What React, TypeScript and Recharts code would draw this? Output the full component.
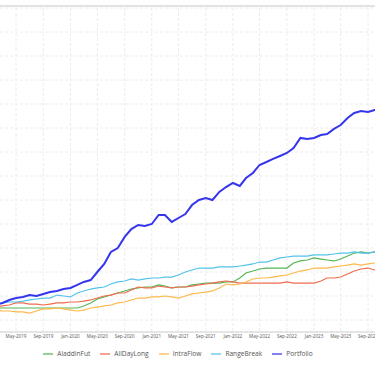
import { LineChart, Line, XAxis, YAxis, CartesianGrid, Legend } from 'recharts'

// monthly points, Feb-2019 .. Nov-2023 (cumulative return, %)
const START_YEAR = 2019
const START_MONTH = 1 // February
const MONTH_COUNT = 58

const ALADDIN_FUT = [
  0, 0, 0, 0, 0, 0, 0, 0, 0, 0,
  0, 0, 0, 1.7, 4.2, 7.5, 9.2, 10.8, 12.5, 14.2,
  15.8, 16.7, 17.5, 17.5, 19.2, 18.3, 16.7, 17.5, 17.5, 19.2,
  20, 20.8, 20.8, 20.8, 21.7, 21.7, 25, 29.2, 30.8, 32.5,
  33.3, 33.3, 33.3, 33.3, 37.5, 39.2, 40, 41.7, 40.8, 40,
  39.2, 40.8, 43.3, 45.8, 46.7, 45.8, 46.7, 46.7,
]

const ALL_DAY_LONG = [
  0.8, 1.7, 2.5, 4.2, 4.2, 3.3, 3.3, 2.5, 3.3, 4.2,
  4.2, 5, 5, 5.8, 6.7, 8.3, 10, 10.8, 12.5, 12.5,
  15, 17.5, 16.7, 16.7, 18.3, 17.5, 16.7, 17.5, 17.5, 18.3,
  19.2, 20, 20.8, 21.7, 22.5, 21.7, 20.8, 20.8, 20.8, 20.8,
  20.8, 20.8, 20.8, 21.7, 20.8, 20.8, 20.8, 20.8, 22.5, 25,
  25, 25.8, 28.3, 30.8, 32.5, 33.3, 31.7, 31.7,
]

const INTRA_FLOW = [
  -1.7, -2.5, -2.5, -3.3, -3.3, -4.2, -2.5, -0.8, -0.8, 0,
  -0.8, -1.7, -2.5, -1.7, 0, 0.8, 1.7, 2.5, 4.2, 5,
  6.7, 8.3, 8.3, 9.2, 9.2, 10, 9.2, 8.3, 10, 11.7,
  12.5, 13.3, 14.2, 16.7, 20, 19.2, 20, 21.7, 24.2, 25,
  25, 25.8, 26.7, 27.5, 29.2, 30.8, 31.7, 33.3, 33.3, 33.3,
  34.2, 35, 35.8, 36.7, 35.8, 36.7, 37.5, 37.5,
]

const RANGE_BREAK = [
  3.3, 4.2, 5, 5, 5.8, 6.7, 7.5, 8.3, 8.3, 10.8,
  10, 9.2, 12.5, 14.2, 15.8, 16.7, 17.5, 20, 21.7, 22.5,
  24.2, 23.3, 24.2, 25, 25, 25.8, 25.8, 27.5, 30, 31.7,
  33.3, 33.3, 33.3, 34.2, 34.2, 34.2, 35, 35.8, 36.7, 38.3,
  38.3, 40, 41.7, 42.5, 43.3, 43.3, 43.3, 44.2, 44.2, 44.2,
  45, 45.8, 45.8, 46.7, 45.8, 45.8, 46.7, 46.7,
]

const PORTFOLIO = [
  2.5, 4.2, 6.7, 8.3, 9.2, 10.8, 10, 11.7, 13.3, 14.2,
  15.8, 16.7, 19.2, 21.7, 23.3, 30, 36.7, 46.7, 50, 59.2,
  65.8, 69.2, 68.3, 70, 77.5, 77.5, 71.7, 75, 78.3, 85.8,
  90, 91.7, 90, 96.7, 100.8, 104.2, 101.7, 108.3, 112.5, 119.2,
  121.7, 124.2, 126.7, 129.2, 133.3, 141.7, 140.8, 141.7, 144.2, 145,
  149.2, 152.5, 158.3, 162.5, 164.2, 163.3, 165, 165,
]

const X_TICKS = [
  '2019-01-01', '2019-05-01', '2019-09-01',
  '2020-01-01', '2020-05-01', '2020-09-01',
  '2021-01-01', '2021-05-01', '2021-09-01',
  '2022-01-01', '2022-05-01', '2022-09-01',
  '2023-01-01', '2023-05-01', '2023-09-01',
]
const X_DOMAIN = ['2018-10-06', '2023-11-21']
const Y_TICKS = Array.from({ length: 28 }, (_, i) => -20 + i * 10)

const SERIES = [
  { key: 'AladdinFut', values: ALADDIN_FUT, colour: '#55b555', width: 1.2 },
  { key: 'AllDayLong', values: ALL_DAY_LONG, colour: '#ef6c4f', width: 1.2 },
  { key: 'IntraFlow', values: INTRA_FLOW, colour: '#ffb84a', width: 1.2 },
  { key: 'RangeBreak', values: RANGE_BREAK, colour: '#52c3ea', width: 1.2 },
  { key: 'Portfolio', values: PORTFOLIO, colour: '#3535ee', width: 2 },
]
const SERIES_ORDER = SERIES.map((s) => s.key)

const MONTH_NAMES = ['Jan', 'Feb', 'Mar', 'Apr', 'May', 'Jun', 'Jul', 'Aug', 'Sep', 'Oct', 'Nov', 'Dec']

const chartData = Array.from({ length: MONTH_COUNT }, (_, i) => {
  const m = START_MONTH + i
  const row: Record<string, number> = {
    t: Date.UTC(START_YEAR + Math.floor(m / 12), m % 12, 1),
  }
  for (const s of SERIES) row[s.key] = s.values[i]
  return row
})

const fmtTick = (v: number) => {
  const d = new Date(v)
  return `${MONTH_NAMES[d.getUTCMonth()]}-${d.getUTCFullYear()}`
}

export default function App() {
  return (
    <div
      style={{
        position: 'absolute',
        left: 0,
        top: 0,
        width: 375,
        height: 366,
        overflow: 'hidden',
        background: '#fff',
        fontFamily: '"Open Sans", sans-serif',
      }}
    >
      <div style={{ position: 'absolute', left: 0, top: 5, width: 375, height: 2, background: '#e3e3e3' }} />
      <div style={{ position: 'absolute', left: -30, top: 0 }}>
        <LineChart width={416} height={366} data={chartData} margin={{ top: 8, right: 0, bottom: 0, left: 0 }}>
          <CartesianGrid stroke="#ececec" strokeDasharray="3 2" />
          <XAxis
            dataKey="t"
            type="number"
            scale="time"
            domain={X_DOMAIN.map((d) => Date.parse(d))}
            ticks={X_TICKS.map((d) => Date.parse(d))}
            tickFormatter={fmtTick}
            allowDataOverflow
            height={14}
            tickLine={false}
            tickSize={2}
            tickMargin={1}
            axisLine={{ stroke: '#d0d0d0' }}
            tick={{ fill: '#555', fontSize: 4.6 }}
            interval={0}
          />
          <YAxis hide domain={[-20, 250]} ticks={Y_TICKS} allowDataOverflow />
          <Legend
            verticalAlign="bottom"
            height={20}
            iconType="plainline"
            iconSize={10}
            itemSorter={(item: { value: string }) => SERIES_ORDER.indexOf(item.value)}
            wrapperStyle={{ fontSize: 6.6, top: 349, left: 5 }}
            formatter={(value: string) => <span style={{ color: '#555' }}>{value}</span>}
          />
          {SERIES.map((s) => (
            <Line
              key={s.key}
              type="linear"
              dataKey={s.key}
              stroke={s.colour}
              strokeWidth={s.width}
              dot={false}
              isAnimationActive={false}
            />
          ))}
        </LineChart>
      </div>
    </div>
  )
}
